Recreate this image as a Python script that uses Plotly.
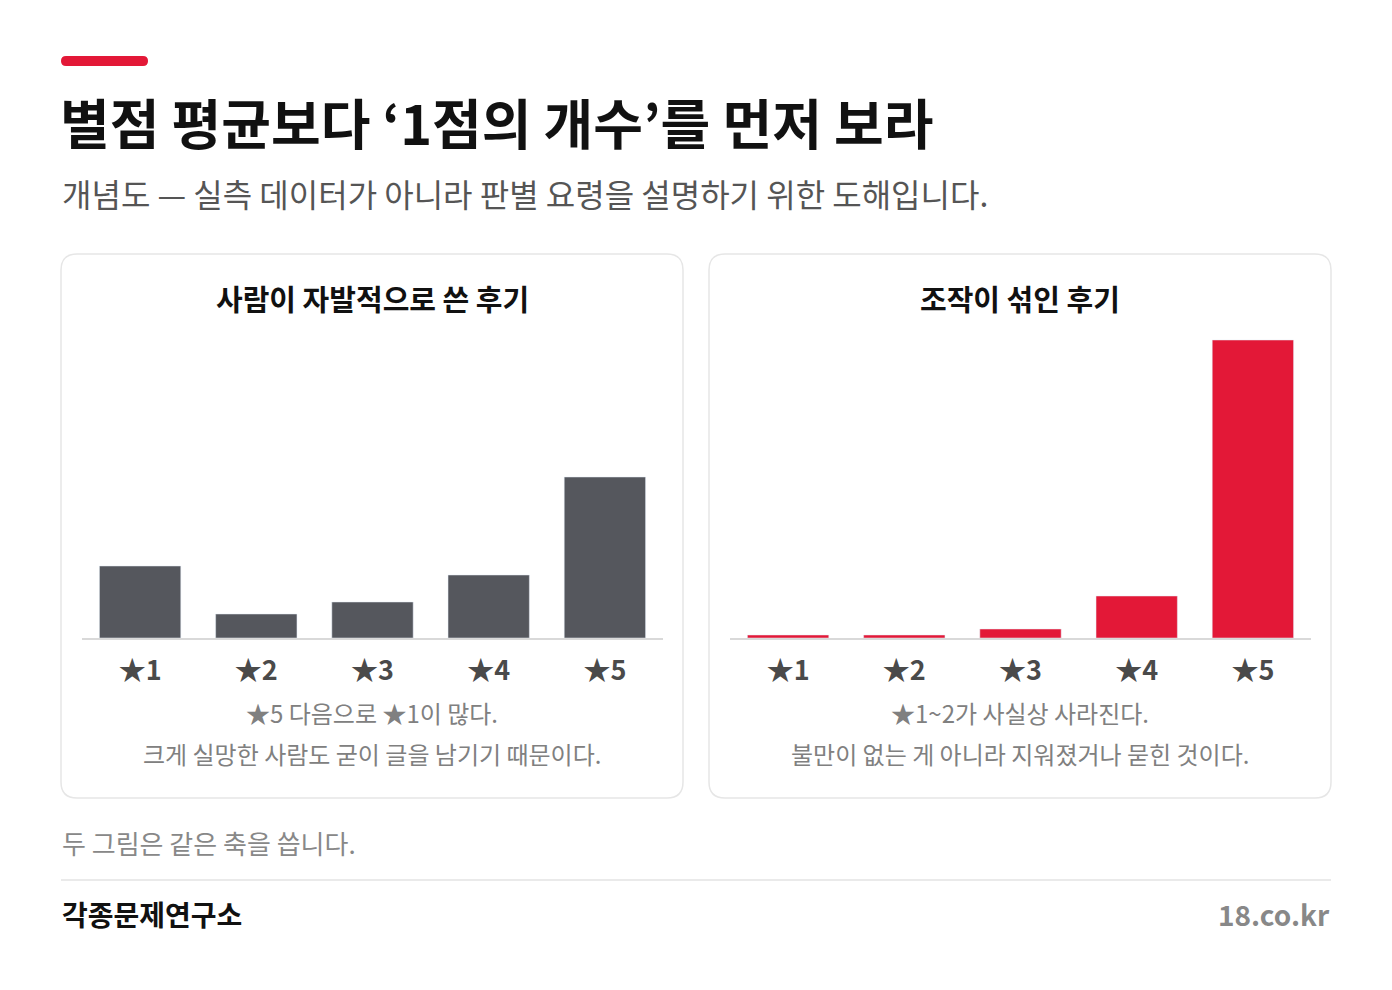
import plotly.graph_objects as go

W, H = 1392, 990
cats = ["★1", "★2", "★3", "★4", "★5"]
organic = [72, 24, 36, 63, 161]
manipulated = [3, 3, 9, 42, 298]
FONT = "Noto Sans CJK KR"
OFF = 8

def px(x): return (x - OFF) / W
def py(y): return 1 - (y - OFF) / H

fig = go.Figure()
fig.add_bar(x=cats, y=organic, marker_color="#55575d", xaxis="x", yaxis="y", hoverinfo="skip")
fig.add_bar(x=cats, y=manipulated, marker_color="#e31837", xaxis="x2", yaxis="y2", hoverinfo="skip")

ydom = [py(638), py(330)]
axcommon = dict(showgrid=False, zeroline=False, showline=True, linecolor="#d9d9d9", linewidth=1.5,
                ticks="", tickfont=dict(family=FONT, size=27, color="#4a4a4a", weight="bold"),
                ticklabelstandoff=8, fixedrange=True)
ycommon = dict(range=[0, 308], visible=False, fixedrange=True)
fig.update_layout(
    width=W, height=H, margin=dict(l=0, r=0, t=0, b=0),
    paper_bgcolor="white", plot_bgcolor="rgba(0,0,0,0)", showlegend=False, bargap=0.3,
    font=dict(family=FONT),
    xaxis=dict(domain=[px(82), px(663)], anchor="y", **axcommon),
    xaxis2=dict(domain=[px(730), px(1311)], anchor="y2", **axcommon),
    yaxis=dict(domain=ydom, anchor="x", **ycommon),
    yaxis2=dict(domain=ydom, anchor="x2", **ycommon),
)

def rrect(x0, y0, x1, y1, r):
    X0, X1 = px(x0), px(x1); Y0, Y1 = py(y0), py(y1)
    rx, ry = r / W, r / H
    return (f"M{X0+rx},{Y0} L{X1-rx},{Y0} Q{X1},{Y0} {X1},{Y0-ry} L{X1},{Y1+ry} Q{X1},{Y1} {X1-rx},{Y1} "
            f"L{X0+rx},{Y1} Q{X0},{Y1} {X0},{Y1+ry} L{X0},{Y0-ry} Q{X0},{Y0} {X0+rx},{Y0} Z")

shapes = [
    dict(type="path", path=rrect(61, 254, 683, 798, 16), xref="paper", yref="paper",
         line=dict(color="#e6e6e6", width=1.5), fillcolor="white", layer="below"),
    dict(type="path", path=rrect(709, 254, 1331, 798, 16), xref="paper", yref="paper",
         line=dict(color="#e6e6e6", width=1.5), fillcolor="white", layer="below"),
    dict(type="path", path=rrect(61, 56, 148, 66, 5), xref="paper", yref="paper",
         line=dict(width=0), fillcolor="#e31837"),
    dict(type="line", x0=px(61), x1=px(1331), y0=py(880), y1=py(880), xref="paper", yref="paper",
         line=dict(color="#e3e3e3", width=1.5)),
]
fig.update_layout(shapes=shapes)

def ann(x, y, text, size, color, bold=False, xanchor="left"):
    fig.add_annotation(x=px(x), y=py(y), xref="paper", yref="paper", text=text, showarrow=False,
                       xanchor=xanchor, yanchor="middle",
                       font=dict(family=FONT, size=size, color=color, weight="bold" if bold else "normal"))

ann(58, 122, "별점 평균보다 ‘1점의 개수’를 먼저 보라", 54, "#111111", True)
ann(60, 193, "개념도 — 실측 데이터가 아니라 판별 요령을 설명하기 위한 도해입니다.", 32, "#555555")
ann(372, 298, "사람이 자발적으로 쓴 후기", 29, "#111111", True, "center")
ann(1020, 298, "조작이 섞인 후기", 29, "#111111", True, "center")
ann(372, 712, "★5 다음으로 ★1이 많다.", 24, "#808080", False, "center")
ann(372, 753, "크게 실망한 사람도 굳이 글을 남기기 때문이다.", 24, "#808080", False, "center")
ann(1020, 712, "★1~2가 사실상 사라진다.", 24, "#808080", False, "center")
ann(1020, 753, "불만이 없는 게 아니라 지워졌거나 묻힌 것이다.", 24, "#808080", False, "center")
ann(60, 842, "두 그림은 같은 축을 씁니다.", 26, "#888888")
ann(60, 914, "각종문제연구소", 28, "#111111", True)
ann(1332, 914, "18.co.kr", 28, "#888888", True, "right")

fig.write_html("out.html")
